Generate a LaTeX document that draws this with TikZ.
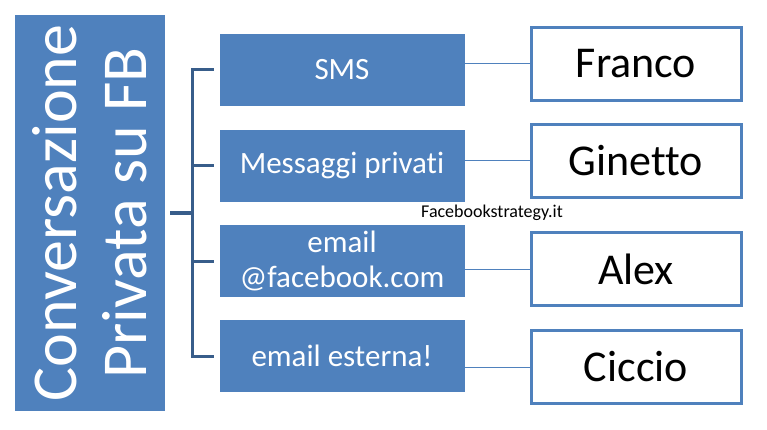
\documentclass[tikz,border=0pt]{standalone}
\usepackage{fontspec}
\setmainfont{Carlito}[RawFeature={-liga}]
\usetikzlibrary{calc}
\definecolor{fbblue}{HTML}{4F81BD}
\definecolor{fbdark}{HTML}{385D8A}
\tikzset{
 pvbox/.style={fill=fbblue,text=white,minimum width=245pt,minimum height=72pt,inner sep=0pt,align=center,font=\fontsize{31}{35}\selectfont},
 namebox/.style={draw=fbblue,line width=3pt,fill=white,minimum width=210pt,minimum height=73pt,inner sep=0pt,font=\fontsize{44}{48}\selectfont},
 bracket/.style={fbdark,line width=3pt},
 link/.style={fbblue,line width=1pt}
}
\begin{document}
\begin{tikzpicture}[x=1pt,y=-1pt]
\useasboundingbox (0,0) rectangle (767,430);
\node[fill=fbblue,minimum width=150pt,minimum height=396pt,inner sep=0pt] (fb) at (90,213) {};
\node[rotate=90,text=white,align=center,font=\fontsize{64}{70}\selectfont] (fbtxt) at (fb.center) {Conversazione\\Privata su FB};
\coordinate (stub) at (170,213);
\coordinate (hub) at (192,213);
\draw[bracket] (stub)--(hub);
\foreach\n/\y/\t/\m/\yy in {sms/70/{SMS}/franco/64,pm/166/{Messaggi privati}/ginetto/161,mail/261/{email\\@facebook.com}/alex/269,ext/356/{email esterna!}/ciccio/367} {
\node[pvbox] (\n) at (342,\y) {\t};
\node[namebox] (\m) at (636,\yy) {\expandafter\MakeUppercase\m};
\draw[bracket] (hub) |- ($(\n.west)+(-5,0)$);
\draw[link] (\m.west) -- (\m.west -| \n.east);}
\node[font=\fontsize{18}{20}\selectfont] (wm) at (492,213) {Facebookstrategy.it};
\end{tikzpicture}
\end{document}
